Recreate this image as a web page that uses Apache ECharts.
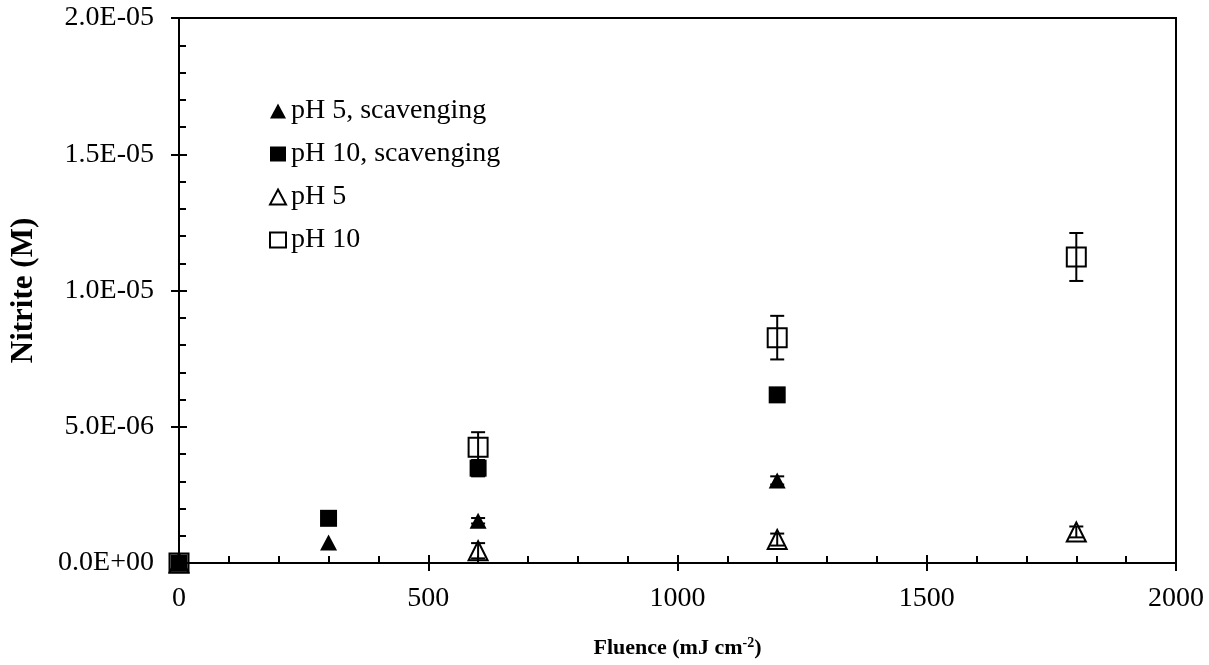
<!DOCTYPE html>
<html>
<head>
<meta charset="utf-8">
<script src="https://cdn.jsdelivr.net/npm/echarts@6/dist/echarts.min.js"></script>
<style>
  html, body { margin: 0; padding: 0; background: #fff; }
  #chart { width: 1209px; height: 665px; }
</style>
</head>
<body>
<div id="chart"></div>
<script>
// Nitrite formation vs UV fluence, with and without radical scavenging
const seriesNames = ['pH 5, scavenging', 'pH 10, scavenging', 'pH 5', 'pH 10'];

// [fluence (mJ cm^-2), nitrite (M)]
const ph5Scav  = [[0, 0], [300, 0.75e-6], [600, 1.55e-6], [1200, 3.03e-6]];
const ph10Scav = [[0, 0], [300, 1.64e-6], [600, 3.48e-6], [1200, 6.17e-6]];
const ph5      = [[0, 0], [600, 0.45e-6], [1200, 0.86e-6], [1800, 1.14e-6]];
const ph10     = [[0, 0], [600, 4.25e-6], [1200, 8.27e-6], [1800, 11.23e-6]];

// standard deviations (M), same order as the points above
const ph5ScavErr  = [0, 0, 0.1e-6, 0.15e-6];
const ph10ScavErr = [0, 0, 0.3e-6, 0.1e-6];
const ph5Err      = [0, 0.28e-6, 0.22e-6, 0.2e-6];
const ph10Err     = [0, 0.55e-6, 0.8e-6, 0.88e-6];

const xTicks = { min: 0, max: 2000, interval: 500 };
const yTicks = { min: 0, max: 2e-5, interval: 5e-6 };

const FONT = 'Liberation Serif';
const LABEL_SIZE = 28;

function fmtY(v) {
  if (v === 0) return '0.0E+00';
  const e = Math.floor(Math.log10(Math.abs(v)) + 1e-9);
  const m = v / Math.pow(10, e);
  const sign = e < 0 ? '-' : '+';
  const ex = String(Math.abs(e)).padStart(2, '0');
  return m.toFixed(1) + 'E' + sign + ex;
}

function errorBars(points, errs) {
  return points.map((p, i) => [p[0], p[1], errs[i]]).filter(d => d[2] > 0);
}

function errorSeries(points, errs) {
  return {
    type: 'custom',
    xAxisIndex: 0, yAxisIndex: 0,
    silent: true,
    z: 5,
    data: errorBars(points, errs),
    renderItem: function (params, api) {
      const x = api.value(0), y = api.value(1), e = api.value(2);
      const hi = api.coord([x, y + e]);
      const lo = api.coord([x, y - e]);
      const cap = 7;
      const style = { stroke: '#000', lineWidth: 2, fill: null };
      return {
        type: 'group',
        children: [
          { type: 'line', shape: { x1: hi[0], y1: hi[1], x2: lo[0], y2: lo[1] }, style: style },
          { type: 'line', shape: { x1: hi[0] - cap, y1: hi[1], x2: hi[0] + cap, y2: hi[1] }, style: style },
          { type: 'line', shape: { x1: lo[0] - cap, y1: lo[1], x2: lo[0] + cap, y2: lo[1] }, style: style }
        ]
      };
    }
  };
}

const chart = echarts.init(document.getElementById('chart'), null, { renderer: 'canvas' });

const axisLine = { show: true, onZero: false, lineStyle: { color: '#000', width: 2 } };
const filled = { color: '#000', opacity: 1 };
const hollow = { color: 'rgba(255,255,255,0)', borderColor: '#000', borderWidth: 2, opacity: 1 };

const option = {
  backgroundColor: '#fff',
  animation: false,
  textStyle: { fontFamily: FONT, color: '#000' },
  grid: {
    left: 178, right: 33, top: 18, bottom: 102,
    show: true, borderColor: '#000', borderWidth: 2, backgroundColor: 'transparent'
  },
  legend: {
    orient: 'vertical',
    left: 264, top: 92,
    itemGap: 15,
    itemWidth: 16, itemHeight: 15,
    data: seriesNames,
    textStyle: { fontFamily: FONT, fontSize: LABEL_SIZE, color: '#000' }
  },
  xAxis: [
    {
      type: 'value', min: xTicks.min, max: xTicks.max, interval: xTicks.interval,
      name: 'Fluence (mJ cm{sup|-2})',
      nameLocation: 'middle', nameGap: 73,
      nameTextStyle: {
        fontFamily: FONT, fontSize: 22, fontWeight: 'bold', color: '#000',
        rich: { sup: { fontFamily: FONT, fontSize: 14, fontWeight: 'bold', verticalAlign: 'top', padding: [0, 0, 10, 0] } }
      },
      axisLine: axisLine,
      axisTick: { show: true, inside: false, length: 8, lineStyle: { color: '#000', width: 2 } },
      axisLabel: { fontFamily: FONT, fontSize: LABEL_SIZE, color: '#000', margin: 22, formatter: v => String(v) },
      splitLine: { show: false }
    },
    {
      type: 'value', min: xTicks.min, max: xTicks.max, interval: xTicks.interval,
      position: 'bottom',
      axisLine: axisLine,
      axisTick: { show: true, inside: true, length: 8, lineStyle: { color: '#000', width: 2 } },
      minorTick: { show: true, splitNumber: 5, length: 7, lineStyle: { color: '#000', width: 2 } },
      axisLabel: { show: false },
      splitLine: { show: false }
    }
  ],
  yAxis: [
    {
      type: 'value', min: yTicks.min, max: yTicks.max, interval: yTicks.interval,
      name: 'Nitrite (M)',
      nameLocation: 'middle', nameGap: 140, nameRotate: 90,
      nameTextStyle: { fontFamily: FONT, fontSize: 31, fontWeight: 'bold', color: '#000' },
      axisLine: axisLine,
      axisTick: { show: true, inside: false, length: 8, lineStyle: { color: '#000', width: 2 } },
      axisLabel: { fontFamily: FONT, fontSize: LABEL_SIZE, color: '#000', margin: 25, formatter: fmtY },
      splitLine: { show: false }
    },
    {
      type: 'value', min: yTicks.min, max: yTicks.max, interval: yTicks.interval,
      position: 'left',
      axisLine: axisLine,
      axisTick: { show: true, inside: true, length: 8, lineStyle: { color: '#000', width: 2 } },
      minorTick: { show: true, splitNumber: 5, length: 7, lineStyle: { color: '#000', width: 2 } },
      axisLabel: { show: false },
      splitLine: { show: false }
    }
  ],
  series: [
    {
      name: seriesNames[0], type: 'scatter', data: ph5Scav,
      symbol: 'triangle', symbolSize: [17, 16], z: 3,
      itemStyle: filled
    },
    {
      name: seriesNames[1], type: 'scatter', data: ph10Scav,
      symbol: 'rect', symbolSize: 17, z: 3,
      itemStyle: filled
    },
    {
      name: seriesNames[2], type: 'scatter', data: ph5,
      symbol: 'triangle', symbolSize: [19, 19], z: 4,
      itemStyle: hollow
    },
    {
      name: seriesNames[3], type: 'scatter', data: ph10,
      symbol: 'rect', symbolSize: 19, z: 4,
      itemStyle: hollow
    },
    errorSeries(ph5Scav, ph5ScavErr),
    errorSeries(ph10Scav, ph10ScavErr),
    errorSeries(ph5, ph5Err),
    errorSeries(ph10, ph10Err)
  ]
};

chart.setOption(option);
</script>
</body>
</html>
